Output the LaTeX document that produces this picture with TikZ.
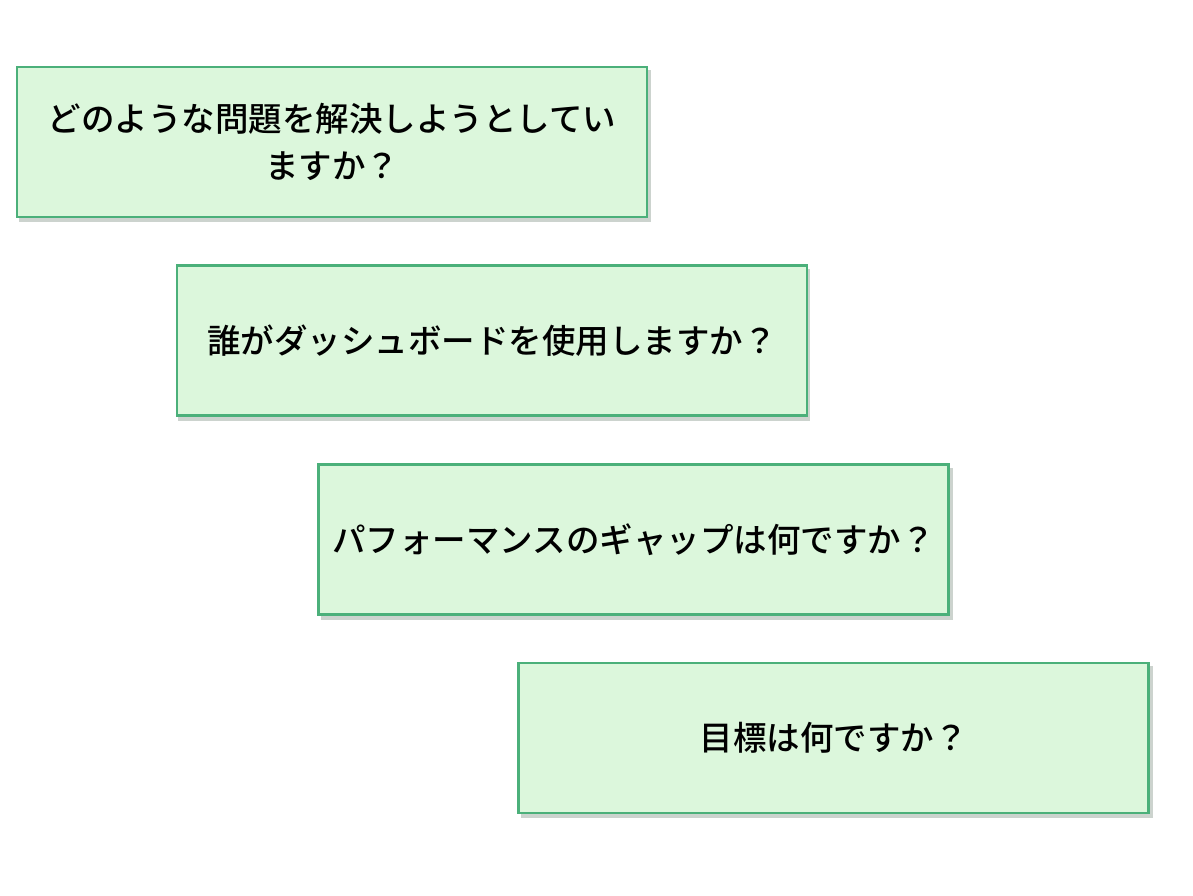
\documentclass[tikz,border=0pt]{standalone}
\usepackage{fontspec}
\newfontfamily\cjk{Noto Sans CJK JP Medium}
\definecolor{boxfill}{HTML}{DCF7DC}
\definecolor{boxline}{HTML}{4BB07A}
\definecolor{shade}{HTML}{9AA89E}
\begin{document}
\begin{tikzpicture}[x=1pt,y=-1pt,
  qbox/.style={draw=boxline,line width=2.4pt,fill=boxfill,minimum width=630pt,minimum height=150pt,
    inner sep=0pt,align=center,font=\cjk\fontsize{33.5}{47}\selectfont,text=black},
  qshadow/.style={fill=shade,opacity=0.5}]
\useasboundingbox (0,0) rectangle (1193,896);
\foreach \x/\y in {16/66,175/265,318/464,518/662}{
  \fill[qshadow] (\x+3,\y+4) rectangle (\x+635,\y+156);
}
\node[qbox] (q1) at (332,142) {どのような問題を解決しようとしてい\\ますか？};
\node[qbox] (q2) at (492,340.5) {誰がダッシュボードを使用しますか？};
\node[qbox] (q3) at (633.5,539.5) {パフォーマンスのギャップは何ですか？};
\node[qbox] (q4) at (833.5,738) {目標は何ですか？};
\end{tikzpicture}
\end{document}
